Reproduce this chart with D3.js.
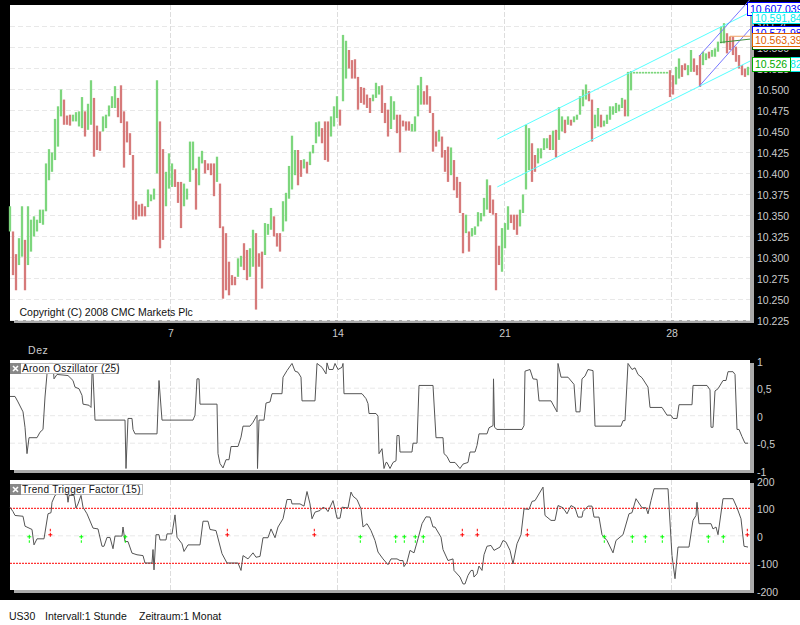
<!DOCTYPE html>
<html>
<head>
<meta charset="utf-8">
<title>US30</title>
<script src="https://cdn.jsdelivr.net/npm/d3@7"></script>
<style>
    body { margin: 0; background: #000; overflow: hidden; }
    svg { display: block; }
    text { font-family: "Liberation Sans", Arial, sans-serif; }
    .tick text { fill: #ccc; font-size: 10.5px; }
</style>
</head>
<body>
<div id="chart"></div>
<script>

// price bars, one every 3 hours
const barHigh = [
    10361,10331,10304,10323,10361,10321,10361,10345,10349,10345,
    10357,10357,10412,10429,10425,10465,10480,10500,10488,10469,
    10470,10470,10473,10474,10491,10474,10483,10511,10490,10457,
    10450,10468,10470,10481,10492,10504,10490,10505,10474,10462,
    10448,10422,10367,10363,10364,10361,10381,10375,10382,10511,
    10462,10429,10402,10424,10412,10405,10390,10390,10388,10382,
    10438,10438,10406,10420,10427,10416,10412,10412,10412,10420,
    10388,10337,10329,10295,10279,10277,10299,10302,10317,10309,
    10311,10333,10329,10305,10307,10341,10340,10359,10349,10329,
    10329,10367,10377,10409,10445,10428,10428,10416,10417,10414,
    10426,10434,10461,10462,10454,10462,10462,10468,10480,10492,
    10476,10565,10558,10547,10535,10536,10515,10503,10502,10494,
    10490,10494,10508,10504,10505,10484,10476,10492,10486,10470,
    10470,10463,10462,10462,10459,10468,10505,10515,10498,10505,
    10492,10472,10450,10452,10444,10428,10432,10431,10416,10396,
    10390,10353,10351,10331,10335,10337,10354,10353,10371,10393,
    10386,10369,10353,10314,10335,10341,10361,10351,10351,10351,
    10357,10375,10458,10454,10436,10422,10430,10430,10442,10442,
    10446,10451,10452,10479,10468,10464,10468,10464,10468,10470,
    10492,10500,10506,10498,10488,10470,10478,10470,10463,10470,
    10480,10480,10484,10482,10490,10488,10521,10522,10521,10521,
    10521,10521,10521,10521,10521,10521,10521,10521,10521,10521,
    10523,10517,10527,10537,10529,10531,10529,10547,10537,10529,
    10541,10545,10543,10545,10547,10549,10557,10575,10579,10567,
    10563,10563,10551,10541,10529,10525,10527
];
const barLow = [
    10331,10279,10261,10291,10301,10261,10291,10307,10325,10331,
    10341,10339,10355,10392,10402,10416,10432,10468,10458,10458,
    10457,10462,10462,10456,10454,10444,10452,10458,10420,10428,
    10427,10450,10454,10468,10478,10478,10467,10460,10407,10437,
    10422,10345,10345,10349,10349,10349,10360,10367,10369,10400,
    10311,10321,10361,10382,10384,10384,10365,10335,10361,10369,
    10390,10404,10357,10386,10412,10400,10404,10398,10373,10390,
    10335,10251,10261,10255,10267,10267,10277,10289,10285,10273,
    10277,10289,10238,10289,10263,10303,10327,10333,10325,10313,
    10307,10331,10343,10370,10381,10398,10386,10396,10406,10400,
    10410,10424,10436,10444,10436,10416,10414,10444,10456,10466,
    10457,10486,10513,10525,10513,10513,10476,10484,10482,10478,
    10472,10486,10490,10494,10472,10460,10444,10453,10464,10448,
    10425,10456,10451,10451,10450,10450,10468,10482,10482,10482,
    10472,10426,10432,10438,10419,10402,10390,10398,10380,10371,
    10353,10305,10329,10307,10325,10327,10337,10343,10349,10357,
    10353,10351,10261,10291,10283,10311,10333,10341,10333,10327,
    10337,10353,10381,10404,10390,10402,10412,10418,10428,10430,
    10428,10428,10419,10440,10450,10448,10458,10457,10461,10464,
    10470,10480,10488,10486,10438,10454,10456,10455,10456,10459,
    10464,10470,10472,10474,10478,10468,10468,10499,10519,10519,
    10519,10519,10519,10519,10519,10519,10519,10519,10519,10519,
    10491,10494,10506,10513,10515,10523,10517,10521,10521,10517,
    10503,10529,10535,10537,10539,10539,10545,10555,10555,10543,
    10547,10541,10533,10525,10517,10515,10517
];
// u = closed higher, d = closed lower
const barDir = [
    "udduuduuuu","uuuuuuuudd","duuuuduudd","duuuuudddd","dddddduuuu",
    "dduuuddduu","uuduuddddu","dddddduudd","uuddduuudd","duuuuuddud",
    "uuuuddduuu","duuddddddd","duuuddduud","dddduuuudd","dddudddudd",
    "dduduuuuuu","dddduuuddd","uuuudduuuu","duduududuu","uuudduuduu",
    "uuuuuduuuu","uuuuuuuuuu","dduudduudd","duuduuuuud","ddddddu"
].join("");

const priceTicks = [10225,10250,10275,10300,10325,10350,10375,10400,10425,10450,10475,10500,10525,10550,10575];

// day grid
const dayTickHours = [160.5, 327.5, 494.5, 661.5];
const dayLabels = ["7", "14", "21", "28"];

// drawn channels and trend lines: hour and price at each end
const channelHours = [487.3, 740];
const channelUpper = [10441, 10591.84];
const channelLower = [10384, 10533.82];
const forkHours = [689.3, 740];
const forkUpper = [10540, 10607.04];
const forkLower = [10504, 10571.98];
const orangeHours = [720, 720, 740];
const orangePrices = [10556, 10563.39, 10563.39];
const darkGreenHours = [710, 740];
const darkGreenPrices = [10556, 10560];

// Aroon Oszillator (25)
const aroonHours = [0,5,8,13,15,17,19,27,30,33,35,37,39,43,44,47,58,63,65,69,72,73,79,81,82,83,85,115,116,118,122,123,125,147,149,152,183,185,187,189,190,207,208,210,213,216,219,221,228,231,233,240,243,247,247.5,249,254,256,260,262,272,273,277,282,285,288,291,292,305,307,312,316,317,319,323,325,328,332,333,334,352,356,358,359,366,368,369,372,374,376,377,380,383,386,387,389,390,402,403,407,409,423,426,433,434,437,440,445,450,453,458,460,465,467,469,477,479,483,483.5,484.5,487,512,514,515,520,523,527,529,541,547,548,551,558,564,566,570,572,575,578,583,585,611,613,615,618,622,625,628,632,638,640,652,657,661,663,667,669,682,683,697,700,701,703,705,708,713,716,718,723,725,727,729,732,735,738];
const aroonValues = [.35,.35,.25,.07,-.21,-.69,-.4,-.4,-.3,-.25,.34,.76,.95,.95,.67,.75,.73,.64,.52,.49,.37,.21,.19,.15,.76,.76,-.08,-.08,-.96,-.05,-.05,-.25,-.33,-.33,.64,-.08,-.08,.01,.67,.67,.21,.21,-.69,-.87,-.95,-.8,-.8,-.56,-.56,-.39,-.19,-.19,-.12,.01,-.96,-.08,-.08,.23,.25,.4,.4,.7,.82,.95,.81,.79,.7,.27,.27,.95,.88,.76,.96,.84,.84,.95,.84,.88,.95,.4,.4,.31,.22,.04,.04,-.01,-.69,-.6,-.96,-.85,-.85,-.96,-.85,-.82,-.36,-.36,-.66,-.66,-.5,-.5,.55,.55,-.4,-.4,-.69,-.74,-.85,-.85,-.96,-.88,-.85,-.66,-.66,-.54,-.33,-.33,-.22,-.18,.67,-.21,-.25,-.25,-.18,.81,.84,.67,.66,.27,.27,.07,.95,.7,.7,.57,.07,.07,.67,.72,.84,.82,-.19,-.19,-.09,-.09,.95,.84,.87,.75,.69,.52,.15,.15,.01,.01,-.05,-.05,.2,.2,.55,.55,.47,-.21,-.21,.45,.49,.64,.64,.8,.8,.75,-.25,-.25,-.38,-.5,-.5];
const aroonTicks = [1, 0.5, 0, -0.5, -1];

// Trend Trigger Factor (15)
const ttfHours = [0,3,5,13,15,22,24,27,34,38,41,42,45,48,55,57,58,59,64,66,68,71,73,77,83,88,92,94,97,100,103,105,112,113,115,118,122,127,133,135,142,143,144,146,149,150,156,157,162,165,167,172,174,178,190,193,198,200,206,212,217,228,231,233,238,243,246,250,253,258,261,265,268,273,277,281,282,290,294,297,300,302,305,310,313,316,318,323,325,327,330,332,338,341,343,347,351,353,357,361,365,368,373,378,381,387,390,393,394,397,400,404,408,412,416,420,423,425,431,433,438,443,444,450,453,455,458,461,463,464,467,469,472,474,477,481,484,490,493,496,500,503,507,511,514,519,522,525,533,535,541,545,548,553,557,561,565,568,572,573,578,582,584,589,592,597,603,606,613,619,622,626,632,636,638,641,644,658,662,665,668,679,683,686,687,689,701,703,706,708,713,723,727,731,734,738];
const ttfValues = [104,88,74,71,35,23,-33,-11,-11,80,84,122,147,153,156,153,122,147,147,101,116,147,104,80,28,25,-38,-38,-6,-6,-47,-1,-1,32,-21,-21,-63,-69,-72,-99,-99,-50,-124,4,4,-15,-15,7,7,76,-5,-29,-57,-33,-33,53,53,23,19,-65,-99,-99,-126,-72,-84,-62,-78,-75,-7,-7,25,-7,32,62,132,132,116,116,108,161,116,62,86,92,104,98,88,128,98,64,64,104,101,159,144,132,98,32,44,19,-17,-59,-84,-105,-84,-84,-90,-90,-112,-96,-53,-62,-11,44,69,68,32,32,-5,-50,-90,-84,-126,-150,-175,-175,-144,-126,-126,-150,-138,-110,-126,-69,-38,-35,-53,-41,-17,-23,-53,-102,-29,4,98,96,125,128,177,74,56,56,110,102,80,110,102,68,68,88,108,108,68,68,4,-17,-62,-17,4,80,84,135,102,102,80,128,171,171,-72,-156,-41,-41,56,74,122,44,44,25,32,4,135,135,102,62,-38,-41];
const ttfTicks = [200, 100, 0, -100, -200];
const ttfLevels = [100, -100];

// buy and sell signals of the TTF, in hours
const ttfBuyHours = [19.3, 71.3, 115.3, 350.3, 385.7, 394.3, 405.3, 413.3, 594.3, 622.3, 635.3, 652.3, 698.3, 713.3];
const ttfSellHours = [40.3, 217.3, 304.3, 452.3, 467.3, 517.3, 737.3];

const barStep = 3;
const width = 800, height = 625;
const plotLeft = 10, plotRight = 750;

const deLocale = d3.formatLocale({decimal: ",", thousands: ".", grouping: [3], currency: ["", " €"], minus: "-"});
const formatPrice = deLocale.format(",d");
const formatAroon = deLocale.format(".1~f");
const formatTtf = deLocale.format("d");

let svg = d3.select("#chart").append("svg")
    .attr("width", width)
    .attr("height", height);

svg.append("rect").attr("width", width).attr("height", height).attr("fill", "#000");
svg.append("rect").attr("y", 600).attr("width", width).attr("height", 25).attr("fill", "#fff");

let x = d3.scaleLinear().domain([0, 740]).range([plotLeft, plotRight]);
let yPrice = d3.scaleLinear().domain([10225, 10575]).range([320.5, 26.5]);
let yAroon = d3.scaleLinear().domain([-1, 1]).range([470.7, 360.7]);
let yTtf = d3.scaleLinear().domain([-200, 200]).range([590.8, 480.8]);

// white panel with shadow and dashed grid
function drawPanel(top, bottom, yScale, gridValues) {
    svg.append("rect")
        .attr("x", plotLeft + 4).attr("y", top + 3)
        .attr("width", plotRight - plotLeft).attr("height", bottom - top)
        .attr("fill", "#aaa");
    svg.append("rect")
        .attr("x", plotLeft).attr("y", top)
        .attr("width", plotRight - plotLeft).attr("height", bottom - top)
        .attr("fill", "#fff");

    svg.append("g").selectAll("line")
        .data(gridValues)
        .enter().append("line")
        .attr("x1", plotLeft).attr("x2", plotRight)
        .attr("y1", d => yScale(d)).attr("y2", d => yScale(d))
        .attr("stroke", "#e8e8e8")
        .attr("stroke-dasharray", "5,3");

    svg.append("g").selectAll("line")
        .data(dayTickHours)
        .enter().append("line")
        .attr("x1", d => x(d)).attr("x2", d => x(d))
        .attr("y1", top).attr("y2", bottom)
        .attr("stroke", "#ddd")
        .attr("stroke-dasharray", "5,2");
}

function drawValueAxis(yScale, ticks, format, shift) {
    let axis = svg.append("g")
        .attr("transform", `translate(757,${shift})`)
        .call(d3.axisRight(yScale).tickValues(ticks).tickFormat(format).tickSize(0).tickPadding(0));
    axis.select(".domain").remove();
}

function drawLegend(top, boxWidth, label) {
    let legend = svg.append("g").attr("transform", `translate(${plotLeft},${top})`);
    legend.append("rect")
        .attr("x", 0.5).attr("y", 0.5)
        .attr("width", boxWidth).attr("height", 10)
        .attr("fill", "#fff").attr("stroke", "#bbb");
    legend.append("rect").attr("width", 11).attr("height", 11).attr("fill", "#888");
    legend.append("path")
        .attr("d", "M3,3L8,8M8,3L3,8")
        .attr("stroke", "#fff").attr("stroke-width", 1.6);
    legend.append("text")
        .attr("x", 12).attr("y", 9.2)
        .attr("font-size", 10)
        .attr("letter-spacing", 0.3)
        .attr("fill", "#111")
        .text(label);
}

drawPanel(5, 320, yPrice, priceTicks);
drawPanel(360, 470, yAroon, [0.5, 0, -0.5]);
drawPanel(480, 590, yTtf, [0]);

// price bars
svg.append("g").selectAll("line")
    .data(barHigh)
    .enter().append("line")
    .attr("x1", (d, i) => x(i * barStep)).attr("x2", (d, i) => x(i * barStep))
    .attr("y1", d => yPrice(d))
    .attr("y2", (d, i) => yPrice(barLow[i]))
    .attr("stroke", (d, i) => barDir[i] === "d" ? "#d67a7a" : "#7dd67d")
    .attr("stroke-width", 2.3);

// trend lines
function drawTrend(hours, values, color) {
    let line = d3.line().x(d => x(d[0])).y(d => yPrice(d[1]));
    svg.append("path")
        .attr("d", line(d3.zip(hours, values)))
        .attr("fill", "none")
        .attr("stroke", color)
        .attr("stroke-width", 1);
}
drawTrend(channelHours, channelUpper, "#5ff");
drawTrend(channelHours, channelLower, "#5ff");
drawTrend(forkHours, forkUpper, "#77f");
drawTrend(forkHours, forkLower, "#77f");
drawTrend(orangeHours, orangePrices, "#f0a060");
drawTrend(darkGreenHours, darkGreenPrices, "#3f8f3f");

svg.append("text")
    .attr("x", 19.5).attr("y", 316)
    .attr("font-size", 10.5)
    .attr("fill", "#111")
    .text("Copyright (C) 2008 CMC Markets Plc");

// axes
drawValueAxis(yPrice, priceTicks, formatPrice, 0.5);
drawValueAxis(yAroon, aroonTicks, formatAroon, 1);
drawValueAxis(yTtf, ttfTicks, formatTtf, 1);

let dayAxis = svg.append("g")
    .attr("transform", "translate(0,330)")
    .call(d3.axisBottom(x).tickValues(dayTickHours).tickFormat((d, i) => dayLabels[i]).tickSize(0).tickPadding(0));
dayAxis.select(".domain").remove();

svg.append("text")
    .attr("x", 28).attr("y", 354)
    .attr("font-size", 10.5)
    .attr("letter-spacing", 0.6)
    .attr("fill", "#ccc")
    .text("Dez");

// Aroon line
let aroonLine = d3.line().x(d => x(d[0])).y(d => yAroon(d[1]));
svg.append("path")
    .attr("d", aroonLine(d3.zip(aroonHours, aroonValues)))
    .attr("fill", "none")
    .attr("stroke", "#555")
    .attr("stroke-width", 1);
drawLegend(363, 108, "Aroon Oszillator (25)");

// TTF levels, line and signals
svg.append("g").selectAll("line")
    .data(ttfLevels)
    .enter().append("line")
    .attr("x1", plotLeft).attr("x2", plotRight)
    .attr("y1", d => yTtf(d)).attr("y2", d => yTtf(d))
    .attr("stroke", "#f00")
    .attr("stroke-dasharray", "2,1");

let ttfLine = d3.line().x(d => x(d[0])).y(d => yTtf(d[1]));
svg.append("path")
    .attr("d", ttfLine(d3.zip(ttfHours, ttfValues)))
    .attr("fill", "none")
    .attr("stroke", "#555")
    .attr("stroke-width", 1);

svg.append("g").selectAll("path")
    .data(ttfBuyHours)
    .enter().append("path")
    .attr("transform", d => `translate(${x(d)},${yTtf(0) + 1})`)
    .attr("d", "M-2,0H2M0,-2V2M0,3.5V6")
    .attr("fill", "none")
    .attr("stroke", "#0f0")
    .attr("stroke-width", 1);

svg.append("g").selectAll("path")
    .data(ttfSellHours)
    .enter().append("path")
    .attr("transform", d => `translate(${x(d)},${yTtf(0) - 1})`)
    .attr("d", "M-2,0H2M0,-2V2M0,-3.5V-6")
    .attr("fill", "none")
    .attr("stroke", "#f00")
    .attr("stroke-width", 1);
drawLegend(484, 132, "Trend Trigger Factor (15)");

// value boxes on the right edge, back to front
function drawValueBox(left, top, boxHeight, color, label, right) {
    svg.append("rect")
        .attr("x", left + 0.5).attr("y", top + 0.5)
        .attr("width", right - left).attr("height", boxHeight)
        .attr("fill", "#fff")
        .attr("stroke", color);
    svg.append("text")
        .attr("x", left + 3).attr("y", top + boxHeight / 2 + 4)
        .attr("font-size", 10.5)
        .attr("fill", color)
        .text(label);
}
drawValueBox(752, 37, 12, "#060", "", 810);
drawValueBox(752, 26, 14, "#00f", "10.571,98", 810);
drawValueBox(752, 33, 13, "#e06000", "10.563,39", 810);
drawValueBox(747, 2, 13, "#00f", "10.607,039", 810);
drawValueBox(752, 12, 11, "#0ee", "10.591,84", 810);
drawValueBox(752, 57, 14, "#0ee", "10.533,82", 810);
drawValueBox(752, 57, 14, "#0a0", formatPrice(10526), 790);

// footer
const footerLabels = [["US30", 9], ["Intervall:1 Stunde", 45], ["Zeitraum:1 Monat", 139]];
svg.append("g").selectAll("text")
    .data(footerLabels)
    .enter().append("text")
    .attr("x", d => d[1])
    .attr("y", 620)
    .attr("font-size", 10.5)
    .attr("fill", "#111")
    .text(d => d[0]);

</script>
</body>
</html>
